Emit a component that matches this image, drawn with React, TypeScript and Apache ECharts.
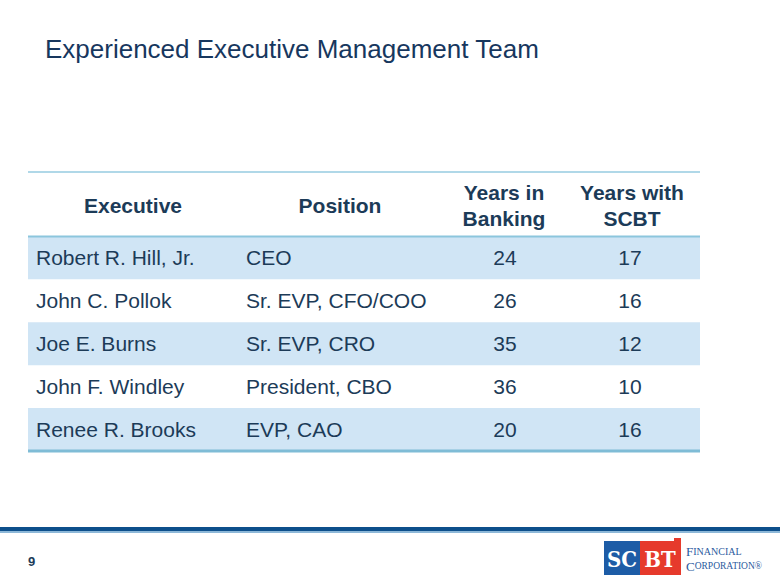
import React, { useEffect, useRef } from "react";
import * as echarts from "echarts";

const titleText = "Experienced Executive Management Team";
const headers = ["Executive", "Position", "Years in\nBanking", "Years with\nSCBT"];
const executives = ["Robert R. Hill, Jr.", "John C. Pollok", "Joe E. Burns", "John F. Windley", "Renee R. Brooks"];
const positions = ["CEO", "Sr. EVP, CFO/COO", "Sr. EVP, CRO", "President, CBO", "EVP, CAO"];
const yearsInBanking = [24, 26, 35, 36, 20];
const yearsWithSCBT = [17, 16, 12, 10, 16];
const pageNumber = "9";

const FONT = "'Liberation Sans', Arial, Helvetica, sans-serif";
const TEXT = "#1c3b58";
const HEADER_H = 1.5;
const X_MAX = 672;
// column anchors in x-axis units
const colName = 8;
const colPos = 218;
const colBank = 477;
const colScbt = 602;
const hdrX = [105, 312, 476, 604];

export default function App() {
  const ref = useRef<HTMLDivElement>(null);
  useEffect(() => {
    if (!ref.current) return;
    const chart = echarts.init(ref.current, null, { renderer: "svg" });
    const rows = executives.map((n, i) => [i, n, positions[i], yearsInBanking[i], yearsWithSCBT[i]]);
    const totalRows = HEADER_H + executives.length;

    const option: any = {
      animation: false,
      backgroundColor: "#ffffff",
      title: {
        text: titleText,
        left: 40,
        top: 31,
        textStyle: { fontFamily: FONT, fontSize: 26, fontWeight: "normal", color: "#17375e" },
      },
      grid: { left: 28, right: 80, top: 172, bottom: 134 },
      xAxis: { type: "value", min: 0, max: X_MAX, show: false },
      yAxis: { type: "value", min: 0, max: totalRows, inverse: true, show: false },
      series: [
        {
          type: "custom",
          data: rows,
          renderItem: (params: any, api: any) => {
            const i = api.value(0);
            const tl = api.coord([0, HEADER_H + i]);
            const br = api.coord([X_MAX, HEADER_H + i + 1]);
            const midY = (tl[1] + br[1]) / 2;
            const children: any[] = [];
            if (i % 2 === 0) {
              children.push({
                type: "rect",
                shape: { x: tl[0], y: tl[1], width: br[0] - tl[0], height: br[1] - tl[1] },
                style: { fill: "#d0e5f5" },
              });
            }
            const txt = (xv: number, s: string, align: string) => ({
              type: "text",
              x: api.coord([xv, 0])[0],
              y: midY,
              style: {
                text: s,
                fill: TEXT,
                fontFamily: FONT,
                fontSize: 21,
                align,
                verticalAlign: "middle",
              },
            });
            children.push(txt(colName, String(executives[i]), "left"));
            children.push(txt(colPos, String(positions[i]), "left"));
            children.push(txt(colBank, String(api.value(3)), "center"));
            children.push(txt(colScbt, String(api.value(4)), "center"));
            return { type: "group", children };
          },
        },
        {
          type: "custom",
          data: [[0]],
          renderItem: (params: any, api: any) => {
            const top = api.coord([0, 0]);
            const hb = api.coord([X_MAX, HEADER_H]);
            const bot = api.coord([X_MAX, totalRows]);
            const midY = (top[1] + hb[1]) / 2;
            const children: any[] = [
              {
                type: "line",
                shape: { x1: top[0], y1: top[1], x2: hb[0], y2: top[1] },
                style: { stroke: "#96cbe0", lineWidth: 1.5 },
              },
              {
                type: "line",
                shape: { x1: top[0], y1: hb[1], x2: hb[0], y2: hb[1] },
                style: { stroke: "#8cc6dd", lineWidth: 2 },
              },
              {
                type: "line",
                shape: { x1: top[0], y1: bot[1], x2: bot[0], y2: bot[1] },
                style: { stroke: "#7fbcd6", lineWidth: 3 },
              },
            ];
            headers.forEach((h, k) => {
              children.push({
                type: "text",
                x: api.coord([hdrX[k], 0])[0],
                y: midY + 1,
                style: {
                  text: h,
                  fill: TEXT,
                  fontFamily: FONT,
                  fontSize: 21,
                  fontWeight: "bold",
                  lineHeight: 26,
                  align: "center",
                  verticalAlign: "middle",
                },
              });
            });
            return { type: "group", children };
          },
        },
      ],
      graphic: [
        { type: "rect", shape: { x: 0, y: 527, width: 780, height: 4 }, style: { fill: "#0d4f8b" } },
        { type: "rect", shape: { x: 0, y: 531, width: 780, height: 2 }, style: { fill: "#8db8d8" } },
        {
          type: "text",
          x: 28,
          y: 561,
          style: { text: pageNumber, fill: TEXT, fontFamily: FONT, fontSize: 13, fontWeight: "bold", verticalAlign: "middle" },
        },
        { type: "rect", shape: { x: 604, y: 541, width: 36, height: 34 }, style: { fill: "#1d5ca6" } },
        { type: "rect", shape: { x: 640, y: 541, width: 41, height: 34 }, style: { fill: "#e63a2c" } },
        { type: "rect", shape: { x: 674, y: 538, width: 7, height: 5 }, style: { fill: "#e63a2c" } },
        {
          type: "text",
          x: 622,
          y: 559,
          z: 10,
          style: { text: "SC", fill: "#ffffff", fontFamily: "'DejaVu Serif Condensed', 'DejaVu Serif', serif", fontSize: 22, fontWeight: "bold", align: "center", verticalAlign: "middle" },
        },
        {
          type: "text",
          x: 660,
          y: 559,
          z: 10,
          style: { text: "BT", fill: "#ffffff", fontFamily: "'DejaVu Serif Condensed', 'DejaVu Serif', serif", fontSize: 22, fontWeight: "bold", align: "center", verticalAlign: "middle" },
        },
        {
          type: "text",
          x: 686,
          y: 551,
          style: {
            text: "{a|F}{b|INANCIAL}",
            verticalAlign: "middle",
            rich: {
              a: { fill: "#2a5a9e", fontFamily: "'Liberation Serif', serif", fontSize: 13, lineHeight: 13 },
              b: { fill: "#2a5a9e", fontFamily: "'Liberation Serif', serif", fontSize: 10, lineHeight: 13 },
            },
          },
        },
        {
          type: "text",
          x: 686,
          y: 566,
          style: {
            text: "{a|C}{b|ORPORATION®}",
            verticalAlign: "middle",
            rich: {
              a: { fill: "#2a5a9e", fontFamily: "'Liberation Serif', serif", fontSize: 13, lineHeight: 13 },
              b: { fill: "#2a5a9e", fontFamily: "'Liberation Serif', serif", fontSize: 9.5, lineHeight: 13 },
            },
          },
        },
      ],
    };
    chart.setOption(option);
    return () => chart.dispose();
  }, []);

  return <div ref={ref} style={{ width: 780, height: 585, position: "absolute", left: 0, top: 0 }} />;
}
